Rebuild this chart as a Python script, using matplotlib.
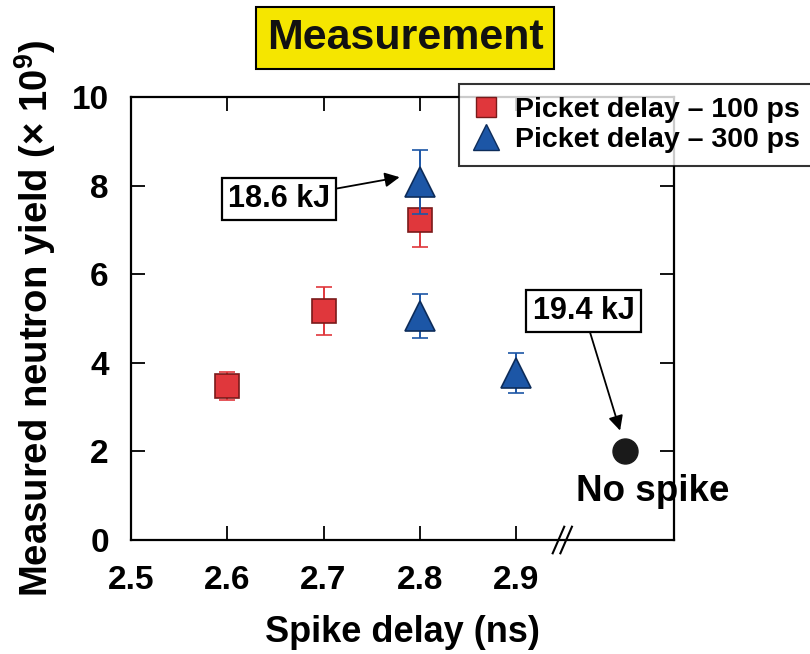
import matplotlib
matplotlib.use("Agg")
import matplotlib.pyplot as plt
from matplotlib.lines import Line2D

plt.rcParams['font.family'] = ['Liberation Sans', 'DejaVu Sans']
plt.rcParams['font.weight'] = 'bold'
plt.rcParams['axes.labelweight'] = 'bold'
plt.rcParams['mathtext.fontset'] = 'custom'
plt.rcParams['mathtext.rm'] = 'Liberation Sans:bold'
plt.rcParams['mathtext.bf'] = 'Liberation Sans:bold'
plt.rcParams['mathtext.default'] = 'bf'

# picket delay - 100 ps (red squares)
red_x = [2.6, 2.7, 2.8]
red_y = [3.48, 5.16, 7.23]
red_err = [0.32, 0.54, 0.62]

# picket delay - 300 ps (blue triangles)
blue_x = [2.8, 2.8, 2.9]
blue_y = [8.09, 5.06, 3.77]
blue_err = [0.72, 0.5, 0.45]

# no spike shot, drawn past the axis break
nospike_x = [3.013]
nospike_y = [2.0]

xticks = [2.5, 2.6, 2.7, 2.8, 2.9]
yticks = [0, 2, 4, 6, 8, 10]
labels = ['Picket delay \u2013 100 ps', 'Picket delay \u2013 300 ps']

RED = '#e0373c'
BLUE = '#1c56a6'

fig = plt.figure(figsize=(8.1, 6.54), dpi=100)
ax = fig.add_axes([0.1617, 0.1743, 0.6704, 0.6774])

ax.errorbar(red_x, red_y, yerr=red_err, fmt='s', ms=17, mfc=RED, mec='#7a1a1a',
            mew=1.2, ecolor=RED, elinewidth=1.4, capsize=6, capthick=1.4, zorder=3)
ax.errorbar(blue_x, blue_y, yerr=blue_err, fmt='^', ms=21, mfc=BLUE, mec='#0d2c5a',
            mew=1.2, ecolor=BLUE, elinewidth=1.4, capsize=6, capthick=1.4, zorder=4)
ax.plot(nospike_x, nospike_y, 'o', ms=18, color='#1a1a1a', zorder=3)

ax.set_xlim(2.5, 3.064)
ax.set_ylim(0, 10)
ax.set_xticks(xticks)
ax.set_xticklabels([f'{v:.1f}' for v in xticks])
ax.set_yticks(yticks)
ax.tick_params(direction='in', length=10, width=1.3, top=True, right=True,
               labelsize=24)
ax.tick_params(axis='y', pad=16)
ax.tick_params(axis='x', pad=18)
for s in ax.spines.values():
    s.set_linewidth(1.6)

ax.set_xlabel('Spike delay (ns)', fontsize=26, labelpad=14)
ax.set_ylabel('Measured neutron yield (\u00d7 10$^{9}$)', fontsize=27.5, labelpad=10)

# axis break marks
for dx in (-0.004, 0.004):
    ax.plot([2.948 + dx - 0.006, 2.948 + dx + 0.006], [-0.3, 0.3], color='black',
            lw=1.5, clip_on=False, zorder=5)

# annotations
box = dict(boxstyle='square,pad=0.2', fc='white', ec='black', lw=1.6)
ax.annotate('18.6 kJ', xy=(2.779, 8.19), xytext=(2.654, 7.7), fontsize=22,
            ha='center', va='center', bbox=box,
            arrowprops=dict(arrowstyle='-|>', color='black', lw=1.3,
                            mutation_scale=22, shrinkA=0, shrinkB=0))
ax.annotate('19.4 kJ', xy=(3.008, 2.47), xytext=(2.970, 5.17), fontsize=22,
            ha='center', va='center', bbox=box,
            arrowprops=dict(arrowstyle='-|>', color='black', lw=1.3,
                            mutation_scale=22, shrinkA=0, shrinkB=0))
ax.text(3.042, 1.1, 'No spike', fontsize=26.5, ha='center', va='center')

fig.text(0.5, 0.942, 'Measurement', fontsize=31, ha='center', va='center',
         color='#111111',
         bbox=dict(boxstyle='square,pad=0.25', fc='#f5e600', ec='black', lw=1.5))

handles = [
    Line2D([], [], ls='none', marker='s', ms=14, mfc=RED, mec='#7a1a1a', mew=1.0),
    Line2D([], [], ls='none', marker='^', ms=19, mfc=BLUE, mec='#0d2c5a', mew=1.0),
]
leg = fig.legend(handles, labels, loc='upper left', bbox_to_anchor=(0.567, 0.872),
                 prop={'weight': 'bold', 'size': 20.5}, frameon=True, fancybox=False,
                 edgecolor='black', handletextpad=0.5, borderpad=0.45,
                 labelspacing=0.15, handlelength=1.0, borderaxespad=0)
leg.get_frame().set_linewidth(1.5)

fig.savefig('out.png', dpi=100)
